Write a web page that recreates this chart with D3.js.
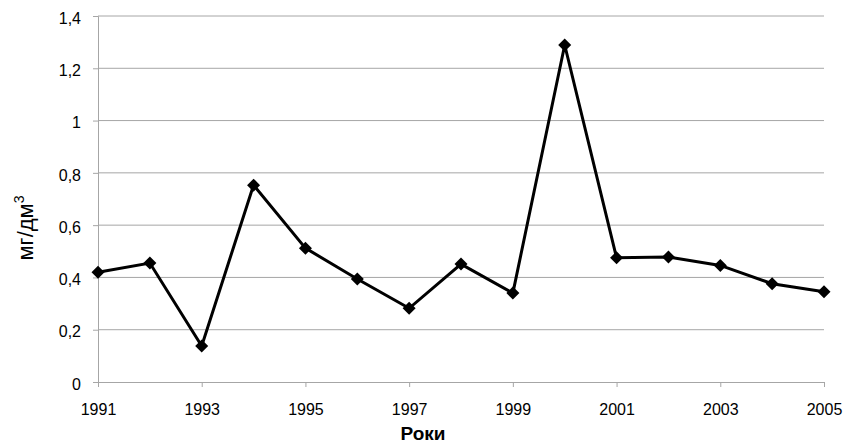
<!DOCTYPE html>
<html>
<head>
<meta charset="utf-8">
<script src="https://cdn.jsdelivr.net/npm/d3@7"></script>
<style>
  body { margin: 0; background: #fff; }
  text { font-family: "Liberation Sans", Arial, sans-serif; fill: #000; }
</style>
</head>
<body>
<div id="chart"></div>
<script>
const years = [1991, 1992, 1993, 1994, 1995, 1996, 1997, 1998, 1999, 2000, 2001, 2002, 2003, 2004, 2005];
const values = [0.42, 0.455, 0.138, 0.753, 0.512, 0.394, 0.282, 0.451, 0.34, 1.289, 0.475, 0.478, 0.446, 0.376, 0.345];
const xTicks = [1991, 1993, 1995, 1997, 1999, 2001, 2003, 2005];
const yTicks = [0, 0.2, 0.4, 0.6, 0.8, 1, 1.2, 1.4];

const W = 845, H = 446;
const margin = { left: 98, right: 21, top: 16, bottom: 64 };
const width = W - margin.left - margin.right;
const height = H - margin.top - margin.bottom;

const svg = d3.select('#chart').append('svg')
    .attr('width', W)
    .attr('height', H);

const g = svg.append('g')
    .attr('transform', `translate(${margin.left},${margin.top})`);

const x = d3.scaleLinear().domain([1991, 2005]).range([0, width]);
const y = d3.scaleLinear().domain([0, 1.4]).range([height, 0]);

const fmt = d => String(+d.toFixed(1)).replace('.', ',');

// gridlines
g.selectAll('.grid')
    .data(yTicks.slice(1))
    .enter()
    .append('line')
    .attr('x1', 0)
    .attr('x2', width)
    .attr('y1', d => y(d))
    .attr('y2', d => y(d))
    .attr('stroke', '#a6a6a6')
    .attr('stroke-width', 1);

// y axis
const yAxis = g.append('g')
    .call(d3.axisLeft(y).tickValues(yTicks).tickSize(5).tickPadding(12).tickFormat(fmt));
yAxis.select('.domain').attr('stroke', '#a6a6a6');
yAxis.selectAll('.tick line').attr('stroke', '#a6a6a6');
yAxis.selectAll('.tick text')
    .attr('dy', '0.45em')
    .style('font-size', '16px');

// x axis
const xAxis = g.append('g')
    .attr('transform', `translate(0,${height})`)
    .call(d3.axisBottom(x).tickValues(xTicks).tickSize(5).tickSizeOuter(0).tickPadding(17).tickFormat(d3.format('d')));
xAxis.select('.domain').attr('stroke', '#a6a6a6');
xAxis.selectAll('.tick line').attr('stroke', '#a6a6a6');
xAxis.selectAll('.tick text').style('font-size', '16px');

// line
const data = years.map((yr, i) => ({ yr, v: values[i] }));

g.append('path')
    .datum(data)
    .attr('fill', 'none')
    .attr('stroke', '#000')
    .attr('stroke-width', 3)
    .attr('stroke-linejoin', 'miter')
    .attr('d', d3.line().x(d => x(d.yr)).y(d => y(d.v)));

g.selectAll('.pt')
    .data(data)
    .enter()
    .append('path')
    .attr('class', 'pt')
    .attr('transform', d => `translate(${x(d.yr)},${y(d.v)})`)
    .attr('d', 'M0,-6.5L6.5,0L0,6.5L-6.5,0Z')
    .attr('fill', '#000');

// axis titles
svg.append('text')
    .attr('x', 423)
    .attr('y', 440)
    .attr('text-anchor', 'middle')
    .style('font-size', '19px')
    .style('font-weight', 'bold')
    .text('Роки');

const yl = svg.append('text')
    .attr('transform', 'translate(33,228) rotate(-90)')
    .attr('text-anchor', 'middle')
    .style('font-size', '22px');
yl.append('tspan').text('мг/дм');
yl.append('tspan').attr('dy', -9).style('font-size', '14px').text('3');
</script>
</body>
</html>
